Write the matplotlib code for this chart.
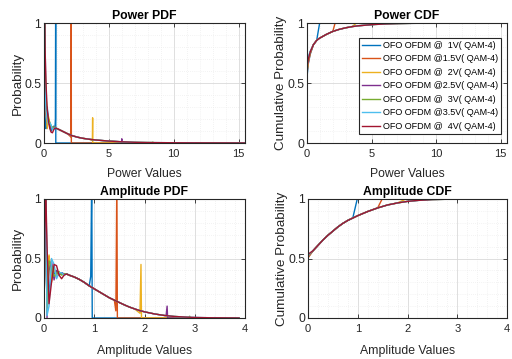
import numpy as np
import matplotlib
matplotlib.use("Agg")
import matplotlib.pyplot as plt
from matplotlib import font_manager as fm
from matplotlib.ticker import MultipleLocator, FuncFormatter

# ---------------- data ----------------
labels = ['OFO OFDM @  1V( QAM-4)', 'OFO OFDM @1.5V( QAM-4)', 'OFO OFDM @  2V( QAM-4)',
          'OFO OFDM @2.5V( QAM-4)', 'OFO OFDM @  3V( QAM-4)', 'OFO OFDM @3.5V( QAM-4)',
          'OFO OFDM @  4V( QAM-4)']
colors = ['#0072BD', '#D95319', '#EDB120', '#7E2F8E', '#77AC30', '#4DBEEE', '#A2142F']

# clipping levels (None = no clipping visible)
amp_clip = [0.95, 1.45, 1.93, 2.45, 2.90, 3.40, None]
power_clip = [0.90, 2.10, 3.75, 6.00, 8.40, 11.6, None]

# Power PDF
power_head_x = [0.0, 0.03, 0.08, 0.15, 0.25, 0.35, 0.45, 0.55, 0.65, 0.75, 0.85]
power_head_y = [
    [0.0, 1.2, 0.15, 0.12, 0.30, 0.18, 0.14, 0.10, 0.13, 0.14, 0.13],
    [0.0, 1.2, 0.50, 0.25, 0.18, 0.20, 0.15, 0.13, 0.12, 0.13, 0.13],
    [0.0, 1.2, 0.60, 0.35, 0.12, 0.22, 0.16, 0.14, 0.13, 0.13, 0.13],
    [0.0, 1.2, 0.90, 0.30, 0.26, 0.18, 0.15, 0.13, 0.12, 0.13, 0.13],
    [0.0, 1.2, 0.70, 0.40, 0.24, 0.20, 0.17, 0.14, 0.13, 0.13, 0.13],
    [0.0, 1.2, 0.45, 0.28, 0.20, 0.16, 0.17, 0.15, 0.11, 0.12, 0.13],
    [0.0, 1.2, 0.80, 0.50, 0.28, 0.18, 0.12, 0.09, 0.085, 0.11, 0.125],
]
power_tail_x = [1.0, 1.2, 1.5, 1.8, 2.2, 2.6, 3.0, 3.5, 4.0, 5.0, 6.0, 7.0, 8.0, 10.0, 12.0, 14.0, 15.5]
power_tail_y = [0.12, 0.11, 0.094, 0.078, 0.06, 0.048, 0.039, 0.031, 0.025, 0.016, 0.010, 0.006,
                0.004, 0.002, 0.001, 0.0005, 0.0]
power_dip = [0.20, 0.05, 0.02, 0.010, 0.004, 0.002, None]
power_spike = [1.2, 1.2, 0.21, 0.035, 0.008, 0.003, None]

# Power CDF
power_cdf_x = [0.0, 0.1, 0.25, 0.5, 0.75, 0.9, 1.0, 1.5, 2.0, 2.5, 3.0, 3.5, 4.0, 5.0, 6.0, 7.0,
               8.0, 10.0, 12.0, 15.5]
power_cdf_y = [0.62, 0.70, 0.76, 0.82, 0.855, 0.868, 0.875, 0.905, 0.93, 0.947, 0.96, 0.97, 0.977,
               0.986, 0.992, 0.995, 0.997, 0.999, 1.0, 1.0]
power_cdf_head = [
    [0.55, 0.66, 0.74], [0.58, 0.67, 0.745], [0.60, 0.68, 0.75], [0.63, 0.69, 0.755],
    [0.66, 0.70, 0.76], [0.70, 0.72, 0.765], [0.64, 0.70, 0.76],
]

# Amplitude PDF
amp_head_x = [0.0, 0.03, 0.06, 0.10, 0.15, 0.20, 0.25, 0.30, 0.35, 0.40, 0.45]
amp_head_y = [
    [0.0, 1.2, 0.45, 0.20, 0.42, 0.38, 0.36, 0.37, 0.38, 0.37, 0.37],
    [0.0, 1.2, 0.30, 0.52, 0.35, 0.40, 0.38, 0.37, 0.37, 0.37, 0.37],
    [0.0, 1.2, 0.10, 0.53, 0.30, 0.42, 0.36, 0.38, 0.37, 0.37, 0.37],
    [0.0, 1.2, 0.00, 0.40, 0.48, 0.32, 0.40, 0.36, 0.38, 0.37, 0.37],
    [0.0, 1.2, 0.05, 0.48, 0.44, 0.35, 0.38, 0.39, 0.36, 0.37, 0.37],
    [0.0, 1.2, 0.02, 0.10, 0.50, 0.45, 0.33, 0.38, 0.38, 0.36, 0.37],
    [0.0, 1.2, 0.60, 0.12, 0.30, 0.45, 0.44, 0.36, 0.33, 0.36, 0.37],
]
amp_tail_x = [0.5, 0.6, 0.7, 0.8, 0.9, 1.0, 1.1, 1.2, 1.3, 1.4, 1.5, 1.6, 1.7, 1.8, 1.9, 2.0,
              2.2, 2.4, 2.6, 2.8, 3.0, 3.3, 3.6, 3.88]
amp_tail_y = [0.36, 0.345, 0.325, 0.30, 0.27, 0.245, 0.22, 0.195, 0.17, 0.15, 0.13, 0.11, 0.092,
              0.077, 0.063, 0.052, 0.034, 0.021, 0.013, 0.008, 0.005, 0.002, 0.001, 0.0]
amp_dip = [0.35, 0.06, 0.04, 0.02, 0.005, 0.002, None]
amp_spike = [1.2, 1.2, 0.45, 0.10, 0.015, 0.004, None]

# Amplitude CDF
amp_cdf_x = [0.0, 0.1, 0.2, 0.3, 0.4, 0.5, 0.6, 0.7, 0.8, 0.9, 1.0, 1.2, 1.4, 1.6, 1.8, 2.0,
             2.2, 2.5, 2.8, 3.2, 3.6, 3.88]
amp_cdf_y = [0.52, 0.565, 0.61, 0.655, 0.695, 0.73, 0.765, 0.795, 0.82, 0.84, 0.86, 0.895,
             0.925, 0.95, 0.967, 0.98, 0.988, 0.995, 0.998, 1.0, 1.0, 1.0]
amp_cdf_start = [0.51, 0.505, 0.515, 0.52, 0.525, 0.53, 0.535]

POWER_XMAX = 15.5
AMP_XMAX = 3.88

# ---------------- fonts ----------------
names = {f.name for f in fm.fontManager.ttflist}
if 'Liberation Sans Narrow' in names:
    FAM = 'Liberation Sans Narrow'
    hs = 1.0
else:
    FAM = 'Liberation Sans'
    hs = 0.84
plt.rcParams['font.family'] = [FAM, 'DejaVu Sans']
TXT = '#262626'


def pdf_line(head_x, head_y, tail_x, tail_y, clip, dip, spike, xmax):
    x = np.r_[head_x, tail_x]
    y = np.r_[head_y, tail_y]
    if clip is None:
        return x, y
    m = x < clip - 0.03
    x = np.r_[x[m], clip - 0.02, clip, clip + 0.01, xmax]
    y = np.r_[y[m], dip, spike, 0.0, 0.0]
    return x, y


def cdf_line(xs, ys, clip, jump, xmax):
    x = np.asarray(xs)
    y = np.asarray(ys)
    if clip is None:
        return x, y
    m = x < clip
    x = np.r_[x[m], clip + jump, xmax]
    y = np.r_[y[m], 1.0, 1.0]
    return x, y


fig = plt.figure(figsize=(5.12, 3.59), dpi=100)
W, H = 512.0, 359.0


def mk(l, t, r, b):
    return fig.add_axes([l / W, 1 - b / H, (r - l) / W, (b - t) / H])


ax_pp = mk(44, 23, 245, 143)
ax_pc = mk(307, 23, 507, 143)
ax_ap = mk(44, 199, 245, 318)
ax_ac = mk(308, 199, 507, 318)

LW = 1.0

for i in range(7):
    x, y = pdf_line(power_head_x, power_head_y[i], power_tail_x, power_tail_y,
                    power_clip[i], power_dip[i], power_spike[i], POWER_XMAX)
    ax_pp.plot(x, y, color=colors[i], lw=LW)

    cy = power_cdf_head[i] + power_cdf_y[3:]
    x, y = cdf_line(power_cdf_x, cy, power_clip[i], 0.08, POWER_XMAX)
    ax_pc.plot(x, y, color=colors[i], lw=LW, label=labels[i])

    x, y = pdf_line(amp_head_x, amp_head_y[i], amp_tail_x, amp_tail_y,
                    amp_clip[i], amp_dip[i], amp_spike[i], AMP_XMAX)
    ax_ap.plot(x, y, color=colors[i], lw=LW)

    cy = [amp_cdf_start[i]] + amp_cdf_y[1:]
    x, y = cdf_line(amp_cdf_x, cy, amp_clip[i], 0.04, AMP_XMAX)
    ax_ac.plot(x, y, color=colors[i], lw=LW)


def style(ax, xmax, xmaj, xmin, title, xlabel, ylabel, xlp):
    ax.set_xlim(0, xmax)
    ax.set_ylim(0, 1)
    ax.xaxis.set_major_locator(MultipleLocator(xmaj))
    ax.xaxis.set_minor_locator(MultipleLocator(xmin))
    ax.yaxis.set_major_locator(MultipleLocator(0.5))
    ax.yaxis.set_minor_locator(MultipleLocator(0.1))
    ax.yaxis.set_major_formatter(FuncFormatter(lambda v, p: '%g' % v))
    ax.grid(True, which='major', color='#d9d9d9', lw=0.6, ls='-')
    ax.grid(True, which='minor', color='#e8e8e8', lw=0.5, ls=(0, (1, 2)))
    ax.set_axisbelow(True)
    ax.tick_params(which='both', direction='in', top=True, right=True, colors=TXT, width=0.6)
    ax.tick_params(which='major', length=3)
    ax.tick_params(which='minor', length=0)
    ax.tick_params(axis='x', pad=4, labelsize=9.5 * hs)
    ax.tick_params(axis='y', pad=2, labelsize=8.8)
    for s in ax.spines.values():
        s.set_color(TXT)
        s.set_linewidth(0.8)
    ax.set_title(title, fontsize=10.5 * hs, fontweight='bold', pad=3, color='black')
    ax.set_xlabel(xlabel, fontsize=10.5 * hs, color=TXT, labelpad=xlp)
    ax.set_ylabel(ylabel, fontsize=9.7, color=TXT, labelpad=0.5)


style(ax_pp, POWER_XMAX, 5, 1, 'Power PDF', 'Power Values', 'Probability', 7)
style(ax_pc, POWER_XMAX, 5, 1, 'Power CDF', 'Power Values', 'Cumulative Probability', 7)
style(ax_ap, 4, 1, 0.2, 'Amplitude PDF', 'Amplitude Values', 'Probability', 8)
style(ax_ac, 4, 1, 0.2, 'Amplitude CDF', 'Amplitude Values', 'Cumulative Probability', 8)

leg = ax_pc.legend(loc='upper left', bbox_to_anchor=(0.258, 0.877), borderaxespad=0,
                   fontsize=6.5, labelspacing=0.5, handlelength=2.0, handletextpad=0.3,
                   borderpad=0.35, fancybox=False, framealpha=1, edgecolor=TXT)
leg.get_frame().set_linewidth(0.8)
for t in leg.get_texts():
    t.set_color('black')

fig.savefig('out.png', dpi=100, facecolor='white')
